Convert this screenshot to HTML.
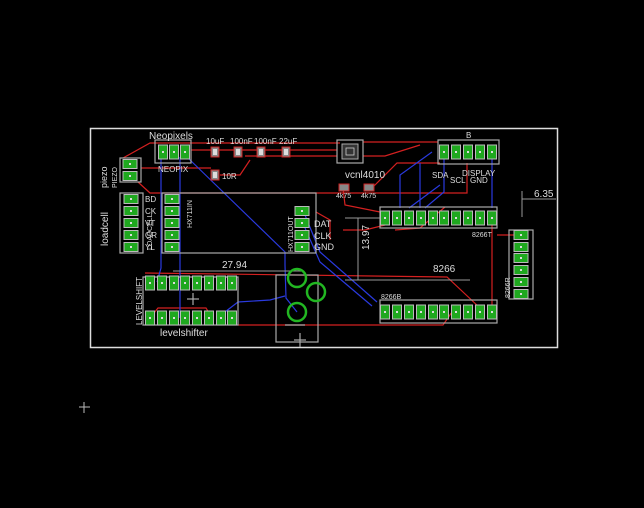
<!DOCTYPE html>
<html><head><style>html,body{margin:0;padding:0;background:#000;}svg{display:block}</style></head>
<body>
<svg width="644" height="508" viewBox="0 0 644 508" xmlns="http://www.w3.org/2000/svg" font-family="Liberation Sans, sans-serif">
<defs>
<g id="pv"><rect x="-4.5" y="-7" width="9" height="14" fill="#1fa81f" stroke="#bbb" stroke-width="1"/><rect x="-1" y="-1" width="2" height="2" fill="#ddd"/></g>
<g id="ph"><rect x="-7" y="-4.5" width="14" height="9" fill="#1fa81f" stroke="#bbb" stroke-width="1"/><rect x="-1" y="-1" width="2" height="2" fill="#ddd"/></g>
<g id="smd"><rect x="-4" y="-5" width="8" height="10" fill="#888" stroke="#c22" stroke-width="1"/><rect x="-2" y="-3" width="4" height="6" fill="#ddd"/></g>
</defs>
<rect width="644" height="508" fill="#000"/>
<rect x="90.5" y="128.5" width="467" height="219" fill="none" stroke="#ddd" stroke-width="1.5"/>

<g stroke="#d42020" stroke-width="1.2" fill="none">
<polyline points="123,158 150,143 340,143"/>
<polyline points="191,150 337,150"/>
<polyline points="245,156 337,156"/>
<polyline points="141,168 211,168"/>
<polyline points="220,175 240,175 250,160"/>
<polyline points="138,182 150,193 467,193 467,163"/>
<polyline points="363,142 438,142"/>
<polyline points="373,187 397,163 440,163"/>
<polyline points="363,156 385,156 420,145"/>
<polyline points="145,273 447,277 480,308"/>
<polyline points="238,325 443,325 452,312"/>
<polyline points="492,212 492,305"/>
<polyline points="497,235 521,235"/>
<polyline points="316,212 330,220 330,240"/>
<polyline points="343,188 345,205 380,212"/>
<polyline points="385,225 365,230 343,230"/>
<polyline points="150,318 158,308 206,308 212,318"/>
<polyline points="395,230 420,228 445,207"/>
</g>
<g stroke="#2a3adf" stroke-width="1.2" fill="none">
<polyline points="161,157 161,268 157,282"/>
<polyline points="180,157 180,318"/>
<polyline points="188,158 285,252 285,265 286,298 297,312"/>
<polyline points="221,315 238,302 270,300 285,296"/>
<polyline points="305,215 320,252 377,302"/>
<polyline points="305,228 320,262 372,306"/>
<polyline points="420,163 420,208"/>
<polyline points="444,155 444,192 425,208"/>
<polyline points="432,152 400,175 400,208"/>
<polyline points="492,152 492,208"/>
<polyline points="409,208 440,185"/>
</g>

<g stroke="#999" stroke-width="1" fill="none">
<line x1="173" y1="271" x2="302" y2="271"/>
<line x1="358" y1="218" x2="358" y2="280"/>
<line x1="345" y1="218" x2="385" y2="218"/>
<line x1="345" y1="280" x2="470" y2="280"/>
<line x1="522" y1="191" x2="522" y2="217"/>
<line x1="522" y1="199" x2="556" y2="199"/>
<line x1="79" y1="407" x2="90" y2="407" stroke="#bbb"/>
<line x1="84" y1="402" x2="84" y2="413" stroke="#bbb"/>
</g>

<g stroke="#aaa" stroke-width="1.2" fill="none">
<rect x="155" y="140" width="36" height="23"/>
<rect x="120" y="158" width="21" height="24"/>
<rect x="120" y="193" width="23" height="60"/>
<rect x="162" y="193" width="154" height="60"/>
<rect x="143" y="277" width="95" height="48"/>
<rect x="276" y="275" width="42" height="67"/>
<rect x="337" y="140" width="26" height="23"/>
<rect x="438" y="140" width="61" height="24"/>
<rect x="380" y="207" width="117" height="21"/>
<rect x="380" y="300" width="117" height="23"/>
<rect x="509" y="230" width="24" height="69"/>
<line x1="300" y1="333" x2="300" y2="347"/><line x1="294" y1="340" x2="306" y2="340"/>
<line x1="285" y1="325" x2="305" y2="325"/>
<line x1="187" y1="299" x2="199" y2="299"/><line x1="193" y1="293" x2="193" y2="305"/>
</g>

<g stroke="#22b722" stroke-width="2.5" fill="none">
<circle cx="297" cy="278" r="9"/><circle cx="316" cy="292" r="9"/><circle cx="297" cy="312" r="9"/>
</g>

<use href="#pv" x="163" y="152"/><use href="#pv" x="174" y="152"/><use href="#pv" x="185" y="152"/>
<use href="#ph" x="130" y="164"/><use href="#ph" x="130" y="176"/>
<use href="#ph" x="131" y="199"/><use href="#ph" x="131" y="211"/><use href="#ph" x="131" y="223"/><use href="#ph" x="131" y="235"/><use href="#ph" x="131" y="247"/>
<use href="#ph" x="172" y="199"/><use href="#ph" x="172" y="211"/><use href="#ph" x="172" y="223"/><use href="#ph" x="172" y="235"/><use href="#ph" x="172" y="247"/>
<use href="#ph" x="302" y="211"/><use href="#ph" x="302" y="223"/><use href="#ph" x="302" y="235"/><use href="#ph" x="302" y="247"/>
<g>
<use href="#pv" x="150" y="283"/><use href="#pv" x="162" y="283"/><use href="#pv" x="174" y="283"/><use href="#pv" x="185" y="283"/><use href="#pv" x="197" y="283"/><use href="#pv" x="209" y="283"/><use href="#pv" x="221" y="283"/><use href="#pv" x="232" y="283"/>
<use href="#pv" x="150" y="318"/><use href="#pv" x="162" y="318"/><use href="#pv" x="174" y="318"/><use href="#pv" x="185" y="318"/><use href="#pv" x="197" y="318"/><use href="#pv" x="209" y="318"/><use href="#pv" x="221" y="318"/><use href="#pv" x="232" y="318"/>
</g>
<use href="#pv" x="444" y="152"/><use href="#pv" x="456" y="152"/><use href="#pv" x="468" y="152"/><use href="#pv" x="480" y="152"/><use href="#pv" x="492" y="152"/>
<g>
<use href="#pv" x="385" y="218"/><use href="#pv" x="397" y="218"/><use href="#pv" x="409" y="218"/><use href="#pv" x="421" y="218"/><use href="#pv" x="433" y="218"/><use href="#pv" x="444" y="218"/><use href="#pv" x="456" y="218"/><use href="#pv" x="468" y="218"/><use href="#pv" x="480" y="218"/><use href="#pv" x="492" y="218"/>
<use href="#pv" x="385" y="312"/><use href="#pv" x="397" y="312"/><use href="#pv" x="409" y="312"/><use href="#pv" x="421" y="312"/><use href="#pv" x="433" y="312"/><use href="#pv" x="444" y="312"/><use href="#pv" x="456" y="312"/><use href="#pv" x="468" y="312"/><use href="#pv" x="480" y="312"/><use href="#pv" x="492" y="312"/>
</g>
<use href="#ph" x="521" y="235"/><use href="#ph" x="521" y="247"/><use href="#ph" x="521" y="258"/><use href="#ph" x="521" y="270"/><use href="#ph" x="521" y="282"/><use href="#ph" x="521" y="294"/>
<use href="#smd" x="215" y="152"/><use href="#smd" x="238" y="152"/><use href="#smd" x="261" y="152"/><use href="#smd" x="286" y="152"/><use href="#smd" x="215" y="175"/>
<rect x="339" y="184" width="10" height="7" fill="#888" stroke="#c22"/><rect x="364" y="184" width="10" height="7" fill="#888" stroke="#c22"/>
<rect x="342" y="144" width="16" height="15" fill="#333" stroke="#aaa" stroke-width="1"/>
<rect x="346" y="148" width="8" height="7" fill="none" stroke="#ccc" stroke-width="0.8"/>

<g fill="#ddd" font-size="9">
<text x="149" y="139" font-size="10">Neopixels</text>
<text x="206" y="144" font-size="8">10uF</text>
<text x="230" y="144" font-size="8">100nF</text>
<text x="254" y="144" font-size="8">100nF</text>
<text x="279" y="144" font-size="8">22uF</text>
<text x="222" y="179" font-size="8">10R</text>
<text x="158" y="172" font-size="8">NEOPIX</text>
<text x="345" y="178" font-size="10">vcnl4010</text>
<text x="336" y="198" font-size="7">4k75</text>
<text x="361" y="198" font-size="7">4k75</text>
<text x="432" y="178" font-size="8">SDA</text>
<text x="450" y="183" font-size="8">SCL</text>
<text x="462" y="176" font-size="8">DISPLAY</text>
<text x="470" y="183" font-size="8">GND</text>
<text x="466" y="138" font-size="8">B</text>
<text x="314" y="227" font-size="9">DAT</text>
<text x="314" y="239" font-size="9">CLK</text>
<text x="314" y="250" font-size="9">GND</text>
<text x="222" y="268" font-size="10">27.94</text>
<text x="433" y="272" font-size="10">8266</text>
<text x="534" y="197" font-size="10">6.35</text>
<text x="472" y="237" font-size="7">8266T</text>
<text x="381" y="299" font-size="7">8266B</text>
<text x="160" y="336" font-size="10">levelshifter</text>
<text transform="translate(107,188) rotate(-90)" font-size="9">piezo</text>
<text transform="translate(117,188) rotate(-90)" font-size="7">PIEZO</text>
<text transform="translate(108,246) rotate(-90)" font-size="10">loadcell</text>
<text transform="translate(152,250) rotate(-90)" font-size="7">LOADCELL</text>
<text transform="translate(192,228) rotate(-90)" font-size="7">HX711IN</text>
<text transform="translate(293,252) rotate(-90)" font-size="7">HX711OUT</text>
<text transform="translate(142,325) rotate(-90)" font-size="8">LEVELSHIFT</text>
<text transform="translate(369,250) rotate(-90)" font-size="10">13.97</text>
<text transform="translate(510,298) rotate(-90)" font-size="7">8266R</text>
<text x="145" y="202" font-size="8">BD</text>
<text x="145" y="214" font-size="8">CK</text>
<text x="145" y="226" font-size="8">VT</text>
<text x="145" y="238" font-size="8">GR</text>
<text x="145" y="250" font-size="8">YL</text>
</g>
</svg>
</body></html>
